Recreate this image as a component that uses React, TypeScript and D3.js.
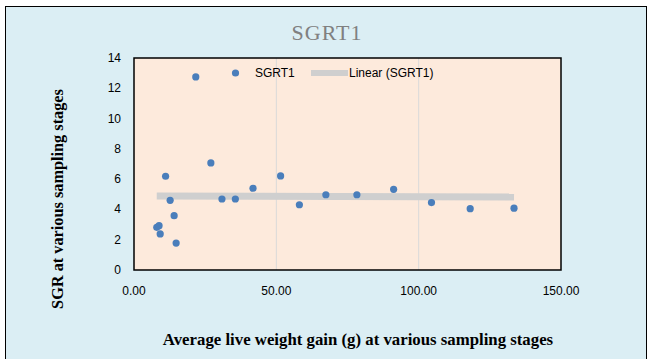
import React from "react";
import * as d3 from "d3";

// Average live weight gain (g) and SGR at each sampling stage
const weightGain = [8.0, 8.8, 9.2, 11.1, 12.7, 14.1, 14.8, 21.7, 27.0, 30.9, 35.6, 41.8, 51.5, 58.1, 67.4, 78.3, 91.2, 104.5, 118.1, 133.5];
const sgr = [2.82, 2.93, 2.38, 6.19, 4.6, 3.59, 1.78, 12.75, 7.07, 4.69, 4.69, 5.4, 6.21, 4.31, 4.97, 4.97, 5.33, 4.45, 4.05, 4.08];

const xTicks = [0, 50, 100, 150];
const yTicks = [0, 2, 4, 6, 8, 10, 12, 14];

export default function App() {
  const width = 650;
  const height = 359;
  const plot = { left: 134, right: 561, top: 58, bottom: 270 };

  const x = d3.scaleLinear().domain([0, 150]).range([plot.left, plot.right]);
  const y = d3.scaleLinear().domain([0, 14]).range([plot.bottom, plot.top]);

  // Linear trend line (least squares)
  const mx = d3.mean(weightGain)!;
  const my = d3.mean(sgr)!;
  const slope =
    d3.sum(weightGain, (v, i) => (v - mx) * (sgr[i] - my)) /
    d3.sum(weightGain, (v) => (v - mx) * (v - mx));
  const intercept = my - slope * mx;
  const [x0, x1] = d3.extent(weightGain) as [number, number];

  const points = weightGain.map((v, i) => ({ gx: v, s: sgr[i] }));

  return (
    <svg
      width={width}
      height={height}
      style={{ position: "absolute", left: 0, top: 0, display: "block" }}
    >
      {/* outer chart area */}
      <rect x={0} y={0} width={width} height={height} fill="#fff" />
      <rect x={5.5} y={6.5} width={641} height={360} fill="#dbeef4" stroke="#000" strokeWidth={1} />

      <text
        x={327}
        y={40}
        textAnchor="middle"
        fontFamily="Liberation Serif"
        fontSize={22}
        letterSpacing={1}
        fill="#808080"
      >
        SGRT1
      </text>

      {/* plot area */}
      <rect
        x={plot.left}
        y={plot.top}
        width={plot.right - plot.left}
        height={plot.bottom - plot.top}
        fill="#fdeadc"
      />

      {/* vertical gridlines */}
      {xTicks.slice(1, -1).map((t) => (
        <line key={t} x1={x(t)} x2={x(t)} y1={plot.top} y2={plot.bottom} stroke="#d9d9d9" strokeWidth={1} />
      ))}

      {/* trend line */}
      <line
        x1={x(x0)}
        x2={x(x1)}
        y1={y(intercept + slope * x0)}
        y2={y(intercept + slope * x1)}
        stroke="#cfcfcf"
        strokeWidth={7}
      />

      {/* points */}
      {points.map((d, i) => (
        <circle key={i} cx={x(d.gx)} cy={y(d.s)} r={3.6} fill="#4a7ebb" />
      ))}

      <rect
        x={plot.left}
        y={plot.top}
        width={plot.right - plot.left}
        height={plot.bottom - plot.top}
        fill="none"
        stroke="#000"
        strokeWidth={1.5}
      />

      {/* legend */}
      <circle cx={235.5} cy={73} r={3.6} fill="#4a7ebb" />
      <text x={255} y={77} fontFamily="Liberation Sans" fontSize={12} fill="#000">
        SGRT1
      </text>
      <line x1={311} x2={348} y1={73} y2={73} stroke="#cfcfcf" strokeWidth={6} />
      <text x={349} y={77} fontFamily="Liberation Sans" fontSize={12} fill="#000">
        Linear (SGRT1)
      </text>

      {/* y tick labels */}
      {yTicks.map((t) => (
        <text
          key={t}
          x={121}
          y={y(t) + 4}
          textAnchor="end"
          fontFamily="Liberation Sans"
          fontSize={12}
          fill="#000"
        >
          {t}
        </text>
      ))}

      {/* x tick labels */}
      {xTicks.map((t) => (
        <text
          key={t}
          x={x(t)}
          y={295}
          textAnchor="middle"
          fontFamily="Liberation Sans"
          fontSize={12}
          fill="#000"
        >
          {t.toFixed(2)}
        </text>
      ))}

      {/* axis titles */}
      <text
        transform="translate(63,199) rotate(-90)"
        textAnchor="middle"
        fontFamily="Liberation Serif"
        fontWeight="bold"
        fontSize={16.3}
        fill="#000"
      >
        SGR at various sampling stages
      </text>
      <text
        x={358}
        y={345}
        textAnchor="middle"
        fontFamily="Liberation Serif"
        fontWeight="bold"
        fontSize={16.8}
        fill="#000"
      >
        Average live weight gain (g) at various sampling stages
      </text>
    </svg>
  );
}
